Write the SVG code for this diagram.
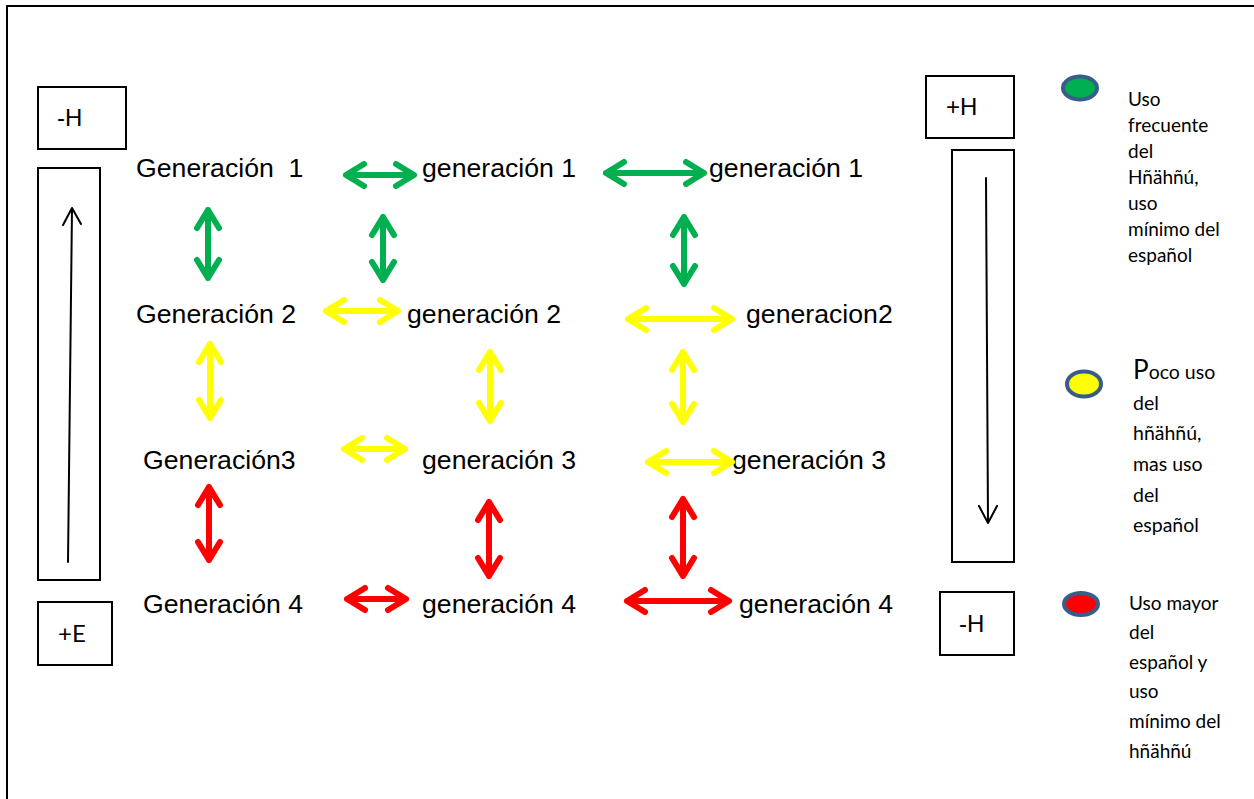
<svg xmlns="http://www.w3.org/2000/svg" width="1254" height="799" viewBox="0 0 1254 799">
<style>
.bg{fill:#fff}
.frame{fill:none;stroke:#000;stroke-width:2}
.box{fill:#fff;stroke:#000;stroke-width:2}
.gen{font-family:"Liberation Sans",Arial,sans-serif;font-size:26.67px;fill:#000}
.lbl{font-family:"Liberation Sans",Arial,sans-serif;font-size:24px;fill:#000}
.lbl2{font-family:Lato,"Liberation Sans",sans-serif;font-size:24px;fill:#000}
.leg{font-family:Lato,"Liberation Sans",sans-serif;font-size:19px;fill:#000}
.legy{font-family:Lato,"Liberation Sans",sans-serif;font-size:19.5px;fill:#000}
.arr{fill:none;stroke-width:6;stroke-linecap:round;stroke-linejoin:round}
.g{stroke:#00B050}
.y{stroke:#FFFF00}
.r{stroke:#FF0000}
.thin{fill:none;stroke:#000;stroke-width:2;stroke-linecap:round;stroke-linejoin:round}
.dot{stroke:#385D8A;stroke-width:4}
</style>
<rect class="bg" x="0" y="0" width="1254" height="799"/>
<path class="frame" d="M7 799 L7 6 L1254 6"/>

<g id="box-minusH-left"><rect class="box" x="38" y="87" width="88" height="62"/><text class="lbl" x="57" y="126">-H</text></g>
<g id="box-left-scale"><rect class="box" x="38" y="168" width="62" height="412"/><path class="thin" d="M68 562 L72 208 M63 225 L72 208 L81 224"/></g>
<g id="box-plusE"><rect class="box" x="38" y="602" width="74" height="63"/><text class="lbl2" x="58" y="642">+E</text></g>
<g id="box-plusH"><rect class="box" x="926" y="76" width="88" height="62"/><text class="lbl" x="946" y="115">+H</text></g>
<g id="box-right-scale"><rect class="box" x="952" y="150" width="62" height="412"/><path class="thin" d="M986 178 L988 523 M979 506 L988 523 L997 506"/></g>
<g id="box-minusH-right"><rect class="box" x="940" y="592" width="74" height="63"/><text class="lbl" x="959" y="632">-H</text></g>

<g id="n-G1a"><text class="gen" x="136" y="177" xml:space="preserve">Generación  1</text></g>
<g id="n-G1b"><text class="gen" x="422" y="177">generación 1</text></g>
<g id="n-G1c"><text class="gen" x="709" y="177">generación 1</text></g>
<g id="n-G2a"><text class="gen" x="136" y="323">Generación 2</text></g>
<g id="n-G2b"><text class="gen" x="407" y="323">generación 2</text></g>
<g id="n-G2c"><text class="gen" x="746" y="323">generacion2</text></g>
<g id="n-G3a"><text class="gen" x="143" y="469">Generación3</text></g>
<g id="n-G3b"><text class="gen" x="422" y="469">generación 3</text></g>
<g id="n-G3c"><text class="gen" x="732" y="469">generación 3</text></g>
<g id="n-G4a"><text class="gen" x="143" y="613">Generación 4</text></g>
<g id="n-G4b"><text class="gen" x="422" y="613">generación 4</text></g>
<g id="n-G4c"><text class="gen" x="739" y="613">generación 4</text></g>

<g id="connectors">
<path class="arr g" d="M364 164 L346 175 L364 186 M346 175 L414 175 M396 164 L414 175 L396 186"/>
<path class="arr g" d="M624 162 L606 173 L624 184 M606 173 L704 173 M686 162 L704 173 L686 184"/>
<path class="arr g" d="M197 228 L208 210 L219 228 M208 210 L208 278 M197 260 L208 278 L219 260"/>
<path class="arr g" d="M372 235 L383 217 L394 235 M383 217 L383 280 M372 262 L383 280 L394 262"/>
<path class="arr g" d="M673 235 L684 217 L695 235 M684 217 L684 284 M673 266 L684 284 L695 266"/>

<path class="arr y" d="M344 300 L326 311 L344 322 M326 311 L398 311 M380 300 L398 311 L380 322"/>
<path class="arr y" d="M646 308 L628 319 L646 330 M628 319 L732 319 M714 308 L732 319 L714 330"/>
<path class="arr y" d="M362 438 L344 449 L362 460 M344 449 L405 449 M387 438 L405 449 L387 460"/>
<path class="arr y" d="M666 451 L648 462 L666 473 M648 462 L732 462 M714 451 L732 462 L714 473"/>
<path class="arr y" d="M199 362 L210 344 L221 362 M210 344 L210 418 M199 400 L210 418 L221 400"/>
<path class="arr y" d="M479 370 L490 352 L501 370 M490 352 L490 421 M479 403 L490 421 L501 403"/>
<path class="arr y" d="M672 370 L683 352 L694 370 M683 352 L683 422 M672 404 L683 422 L694 404"/>

<path class="arr r" d="M198 505 L209 487 L220 505 M209 487 L209 560 M198 542 L209 560 L220 542"/>
<path class="arr r" d="M478 520 L489 502 L500 520 M489 502 L489 576 M478 558 L489 576 L500 558"/>
<path class="arr r" d="M672 517 L683 499 L694 517 M683 499 L683 576 M672 558 L683 576 L694 558"/>
<path class="arr r" d="M365 588 L347 599 L365 610 M347 599 L406 599 M388 588 L406 599 L388 610"/>
<path class="arr r" d="M645 590 L627 601 L645 612 M627 601 L729 601 M711 590 L729 601 L711 612"/>
</g>

<g id="legend-green">
<ellipse class="dot" cx="1080" cy="88" rx="17" ry="11.5" fill="#00B050"/>
<text class="leg"><tspan x="1128" y="106">Uso</tspan><tspan x="1128" y="132">frecuente</tspan><tspan x="1128" y="158">del</tspan><tspan x="1128" y="184">Hñähñú,</tspan><tspan x="1128" y="210">uso</tspan><tspan x="1128" y="236">mínimo del</tspan><tspan x="1128" y="262">español</tspan></text>
</g>
<g id="legend-yellow">
<ellipse class="dot" cx="1084" cy="384" rx="17" ry="12.5" fill="#FFFF00"/>
<text class="legy"><tspan x="1133" y="379"><tspan style="font-size:26px">P</tspan>oco uso</tspan><tspan x="1133" y="410">del</tspan><tspan x="1133" y="440">hñähñú,</tspan><tspan x="1133" y="471">mas uso</tspan><tspan x="1133" y="502">del</tspan><tspan x="1133" y="532">español</tspan></text>
</g>
<g id="legend-red">
<ellipse class="dot" cx="1081" cy="604" rx="17" ry="11" fill="#FF0000"/>
<text class="leg"><tspan x="1129" y="610">Uso mayor</tspan><tspan x="1129" y="639">del</tspan><tspan x="1129" y="669">español y</tspan><tspan x="1129" y="698">uso</tspan><tspan x="1129" y="728">mínimo del</tspan><tspan x="1129" y="758">hñähñú</tspan></text>
</g>
</svg>
